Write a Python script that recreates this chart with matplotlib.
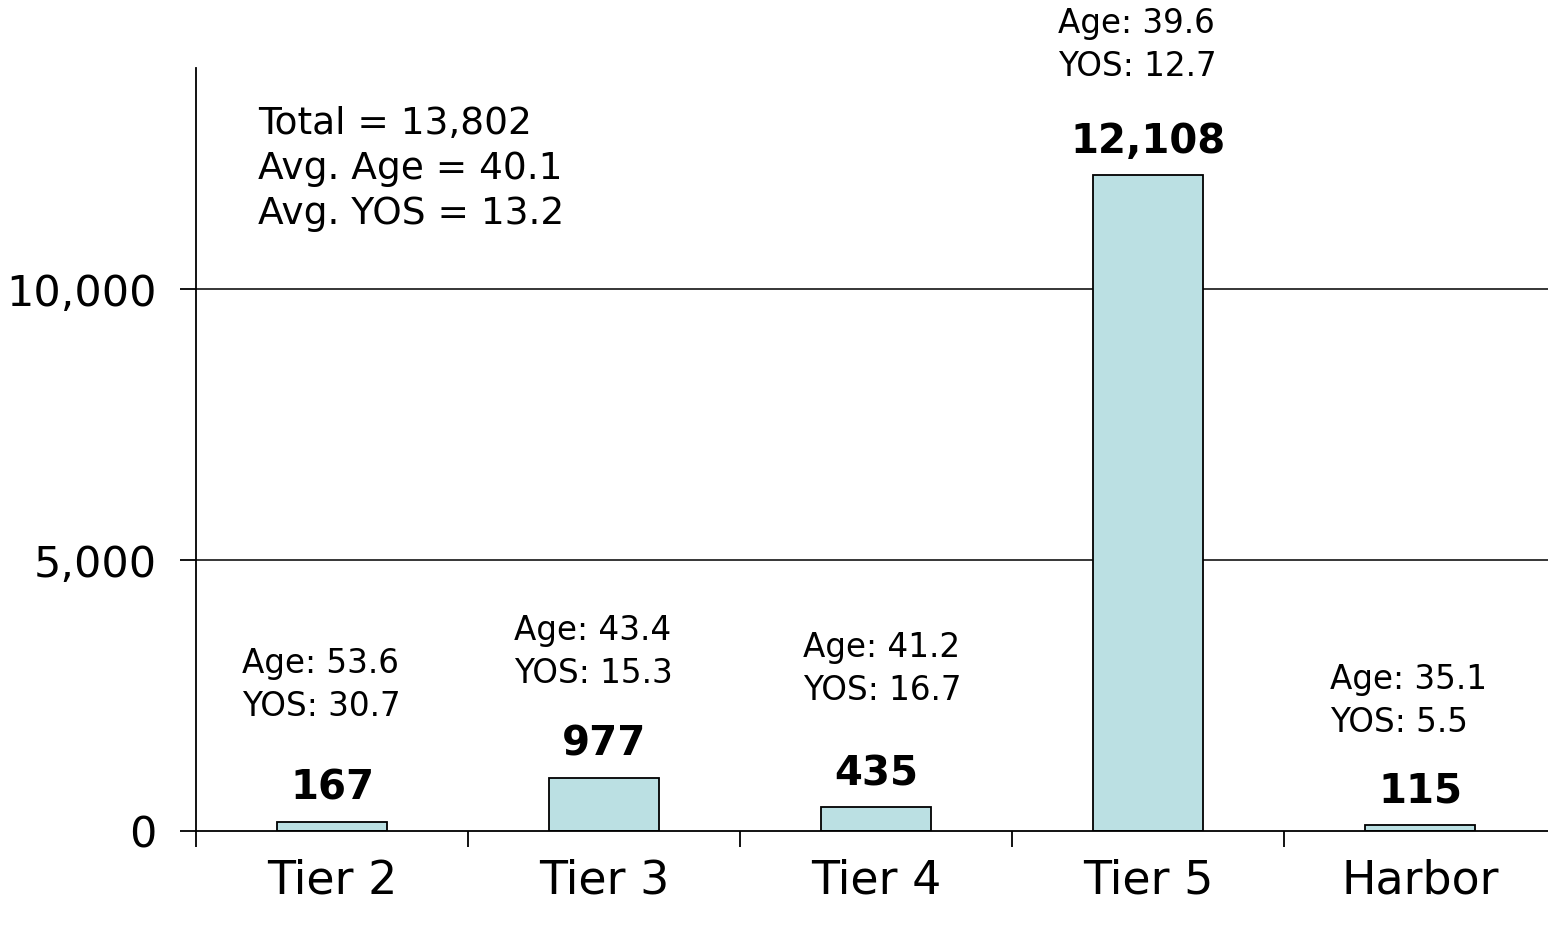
import numpy as np
import matplotlib
matplotlib.use("Agg")
import matplotlib.pyplot as plt
from matplotlib.ticker import FuncFormatter

# data
categories = ["Tier 2", "Tier 3", "Tier 4", "Tier 5", "Harbor"]
counts = [167, 977, 435, 12108, 115]
avg_age = [53.6, 43.4, 41.2, 39.6, 35.1]
avg_yos = [30.7, 15.3, 16.7, 12.7, 5.5]

total = 13802
total_age = 40.1
total_yos = 13.2

# where the age/yos boxes sit (data units, mid of the two lines)
label_y = [2690, 3300, 2985, 14500, 2395]
label_dx = [-0.33, -0.33, -0.27, -0.33, -0.33]

plt.rcParams['font.family'] = ['DejaVu Sans']

fig = plt.figure(figsize=(15.48, 9.25), dpi=100)
ax = fig.add_axes([196 / 1548, 94 / 925, 1352 / 1548, (831 - 68) / 925])

x = np.arange(len(categories))

# grid lines behind bars
for yv in [5000, 10000]:
    ax.axhline(yv, color="black", lw=1.1, zorder=1)

ax.bar(x, counts, width=0.405, color="#BBE0E3", edgecolor="black", lw=1.3, zorder=2)

ax.set_xlim(-0.49, 4.47)
ax.set_ylim(0, 14080)

for i in range(len(categories)):
    ax.annotate("{:,}".format(counts[i]), (x[i], counts[i]), xytext=(0, 24),
                textcoords="offset points", ha="center", va="center",
                fontsize=29, fontweight="bold", zorder=3)
    ax.text(x[i] + label_dx[i], label_y[i],
            "Age: {}\nYOS: {}".format(avg_age[i], avg_yos[i]),
            ha="left", va="center", fontsize=23.5, linespacing=1.4,
            clip_on=False, zorder=3)

ax.text(258, 925 - 169, "Total = {:,}\nAvg. Age = {}\nAvg. YOS = {}".format(total, total_age, total_yos),
        transform=None, ha="left", va="center", fontsize=27, linespacing=1.31)

# axes styling
for s in ["top", "right"]:
    ax.spines[s].set_visible(False)
ax.spines["left"].set_linewidth(1.3)
ax.spines["bottom"].set_linewidth(1.3)

ax.set_yticks([0, 5000, 10000])
ax.yaxis.set_major_formatter(FuncFormatter(lambda v, p: "{:,}".format(int(v))))
ax.tick_params(axis="y", length=11.5, width=1.3, pad=17, labelsize=31)

# category boundaries get tick marks, labels sit in between
ax.set_xticks([-0.5, 0.5, 1.5, 2.5, 3.5])
ax.set_xticklabels([])
ax.set_xticks(x, minor=True)
ax.set_xticklabels(categories, minor=True)
ax.tick_params(axis="x", which="major", length=11.5, width=1.3)
ax.tick_params(axis="x", which="minor", length=0, pad=20, labelsize=33)

fig.savefig("out.png", dpi=100)
